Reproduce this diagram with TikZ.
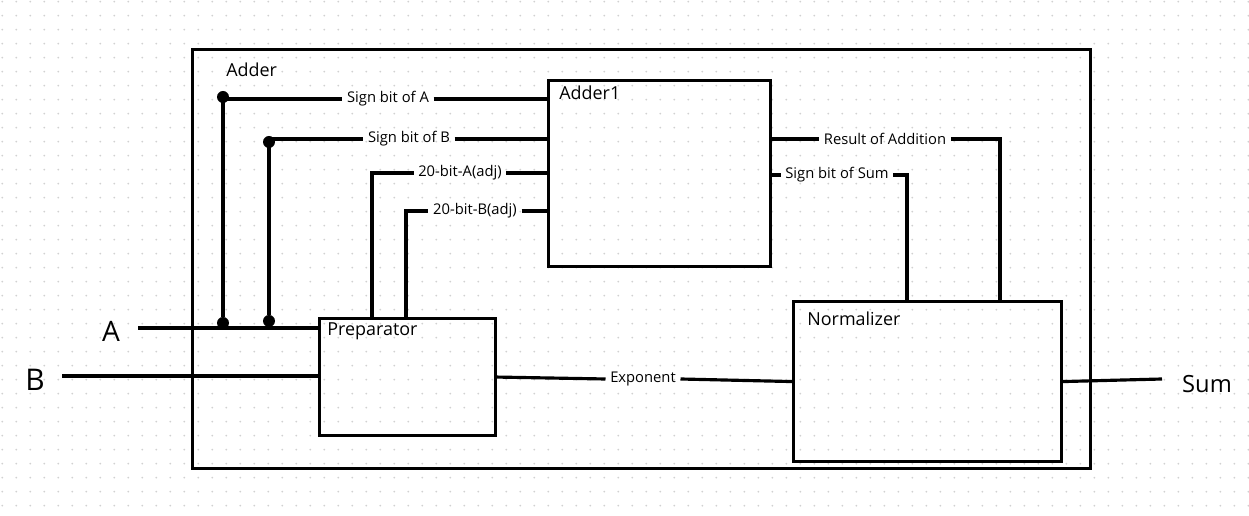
\documentclass[tikz,border=0pt]{standalone}
\usepackage{fontspec}
\setmainfont{Open Sans}
\usetikzlibrary{positioning}

\begin{document}
\begin{tikzpicture}[
    x=.02cm,y=-.02cm,
    blk/.style={draw=black,line width=1.8pt,inner sep=0pt,anchor=north west},
    w/.style={line width=1.8pt,black},
    lbl/.style={font=\fontsize{8.4}{10}\selectfont,inner sep=2.5pt},
    ttl/.style={font=\fontsize{10.2}{12}\selectfont,anchor=west,inner sep=0pt},
    jd/.style={circle,fill=black,inner sep=0pt,minimum size=2.4mm}
  ]
    \useasboundingbox (0,0) rectangle (1249,516);
    % dotted background
    \foreach \i in {0,...,89} {\foreach \j in {0,...,36} {\fill[black!18] (2.3+14*\i,1.7+14*\j) circle (1);}}
    % blocks
    \node[blk,minimum width=17.96cm,minimum height=8.38cm] (adder) at (191,48) {};
    \node[blk,minimum width=4.44cm,minimum height=3.72cm] (add1) at (547,79) {};
    \node[blk,minimum width=3.52cm,minimum height=2.34cm] (prep) at (318,317) {};
    \node[blk,minimum width=5.36cm,minimum height=3.2cm] (norm) at (792,300) {};
    \node[ttl] (tAdder) at (226,70) {Adder}; \node[ttl] (tAdd1) at (559,93) {Adder1};
    \node[ttl] (tPrep) at (327,331) {Preparator}; \node[ttl] (tNorm) at (807,319) {Normalizer};
    % inputs and output
    \node[font=\fontsize{16}{18}\selectfont] (inA) at (111,331) {A};
    \node[font=\fontsize{17}{19}\selectfont] (inB) at (35,380) {B};
    \node[font=\fontsize{13.5}{15}\selectfont,anchor=west] (out) at (1176,384) {Sum};
    \coordinate (a0) at (138,328); \coordinate (b0) at (62,376); \coordinate (s1) at (1162,379);
    \draw[w] (a0) -- (a0 -| prep.west); \draw[w] (b0) -- (b0 -| prep.west);
    \draw[w] (norm.east) -- (s1);
    % sign bits
    \coordinate (jA) at (223,97); \coordinate (jB) at (269,142);
    \node[jd] (dA1) at (jA) {}; \node[jd] (dB1) at (jB) {};
    \node[jd] (dA2) at (223,323) {}; \node[jd] (dB2) at (269,321) {};
    \node[lbl] (sa) at (388,99) {Sign bit of A};
    \node[lbl] (sb) at (409,139) {Sign bit of B};
    \draw[w] (jA) -- (dA2); \draw[w] (jB) -- (dB2);
    \draw[w] (jA) -- (jA |- sa) -- (sa.west); \draw[w] (sa.east) -- (sa.east -| add1.west);
    \draw[w] (jB) |- (sb.west); \draw[w] (sb.east) -- (sb.east -| add1.west);
    % adjusted mantissas
    \coordinate (pA) at (372,317); \coordinate (pB) at (406,317);
    \node[lbl] (ma) at (460,173) {20-bit-A(adj)};
    \node[lbl] (mb) at (475,211) {20-bit-B(adj)};
    \draw[w] (pA) |- (ma.west); \draw[w] (ma.east) -- (ma.east -| add1.west);
    \draw[w] (pB) |- (mb.west); \draw[w] (mb.east) -- (mb.east -| add1.west);
    % results
    \coordinate (nR) at (1000,300); \coordinate (nS) at (907,300);
    \node[lbl] (ra) at (885,139) {Result of Addition};
    \node[lbl] (ss) at (837,175) {Sign bit of Sum};
    \draw[w] (ra.west -| add1.east) -- (ra.west); \draw[w] (ra.east) -| (nR);
    \draw[w] (ss.west -| add1.east) -- (ss.west); \draw[w] (ss.east) -| (nS);
    \node[lbl] (ex) at (643,379) {Exponent};
    \draw[w] (prep.east) -- (ex.west); \draw[w] (ex.east) -- (norm.west);
\end{tikzpicture}
\end{document}
